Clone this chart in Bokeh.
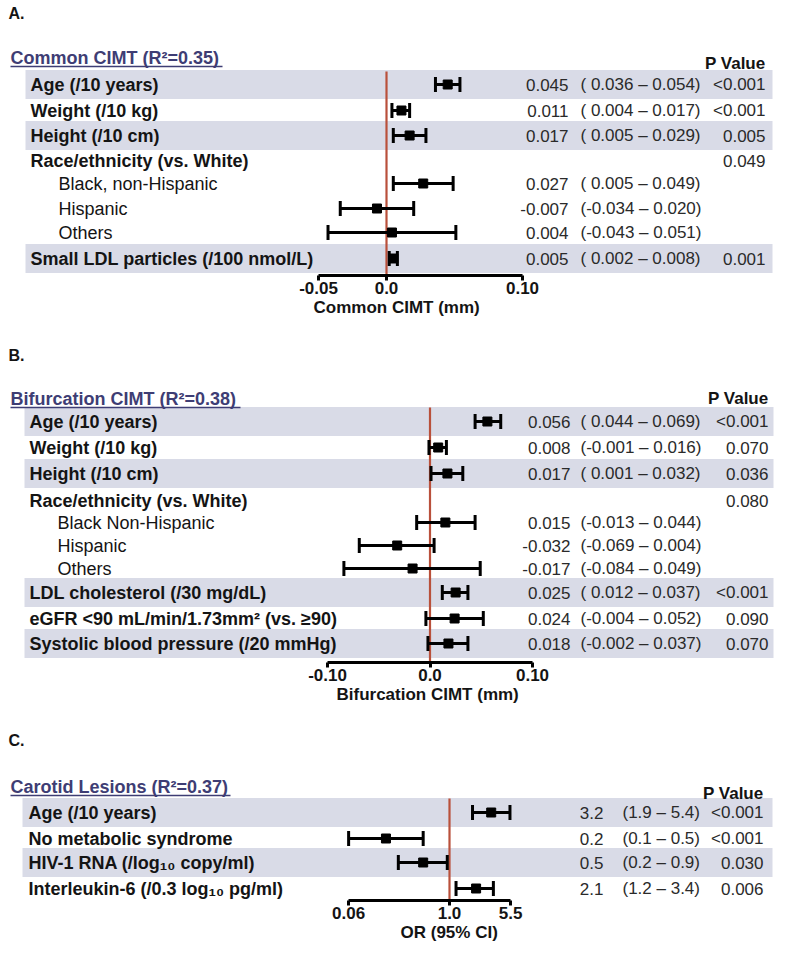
from bokeh.plotting import figure
from bokeh.models import Range1d, FixedTicker, CustomJSTickFormatter, Title
from bokeh.layouts import column
from bokeh.core.properties import value
from bokeh.embed import file_html
from bokeh.resources import INLINE

FONT = "Liberation Sans"
BAND = "#d9dbe7"
REF = "#b9503b"
TITLE_C = "#3e3d74"
INK = "#141414"
NUM = "#2a2a2a"

# ---------------- Panel A: Common CIMT ----------------
a_title = "Common CIMT (R\u00b2=0.35)"
a_labels = ["Age (/10 years)", "Weight (/10 kg)", "Height (/10 cm)",
            "Race/ethnicity (vs. White)", "Black, non-Hispanic", "Hispanic", "Others",
            "Small LDL particles (/100 nmol/L)"]
a_est = [0.045, 0.011, 0.017, None, 0.027, -0.007, 0.004, 0.005]
a_lo = [0.036, 0.004, 0.005, None, 0.005, -0.034, -0.043, 0.002]
a_hi = [0.054, 0.017, 0.029, None, 0.049, 0.020, 0.051, 0.008]
a_p = ["<0.001", "<0.001", "0.005", "0.049", "", "", "", "0.001"]
a_ticks = [-0.05, 0.0, 0.10]
a_xlabel = "Common CIMT (mm)"

# ---------------- Panel B: Bifurcation CIMT ----------------
b_title = "Bifurcation CIMT (R\u00b2=0.38)"
b_labels = ["Age (/10 years)", "Weight (/10 kg)", "Height (/10 cm)",
            "Race/ethnicity (vs. White)", "Black Non-Hispanic", "Hispanic", "Others",
            "LDL cholesterol (/30 mg/dL)", "eGFR <90 mL/min/1.73mm\u00b2 (vs. \u226590)",
            "Systolic blood pressure (/20 mmHg)"]
b_est = [0.056, 0.008, 0.017, None, 0.015, -0.032, -0.017, 0.025, 0.024, 0.018]
b_lo = [0.044, -0.001, 0.001, None, -0.013, -0.069, -0.084, 0.012, -0.004, -0.002]
b_hi = [0.069, 0.016, 0.032, None, 0.044, 0.004, 0.049, 0.037, 0.052, 0.037]
b_p = ["<0.001", "0.070", "0.036", "0.080", "", "", "", "<0.001", "0.090", "0.070"]
b_ticks = [-0.10, 0.0, 0.10]
b_xlabel = "Bifurcation CIMT (mm)"

# ---------------- Panel C: Carotid lesions (OR) ----------------
c_title = "Carotid Lesions (R\u00b2=0.37)"
c_labels = ["Age (/10 years)", "No metabolic syndrome",
            "HIV-1 RNA (/log\u2081\u2080 copy/ml)", "Interleukin-6 (/0.3 log\u2081\u2080 pg/ml)"]
c_est = [3.2, 0.17, 0.48, 2.1]
c_lo = [1.9, 0.06, 0.24, 1.2]
c_hi = [5.4, 0.48, 0.94, 3.4]
c_p = ["<0.001", "<0.001", "0.030", "0.006"]
c_ticks = [0.06, 1.0, 5.5]
c_xlabel = "OR (95% CI)"

# ---------------- layout (pixel positions, not data) ----------------
A_LAY = dict(letter="A.", log=False, x0=386, scale=1360, top=0, axis_y=275, bottom=325,
             letter_y=13, title_y=57, title_end=222, pv_y=63, red_top=71, xlab_left=313,
             est_r=568, ci_l=580, p_r=765, band_l=25, band_r=772, lab_x=30, sub_x=58,
             kinds=["main", "main", "main", "head", "sub", "sub", "sub", "main"],
             ys=[84, 110, 135, 160, 183, 208, 232, 258],
             bands=[1, 0, 1, 0, 0, 0, 0, 1])
B_LAY = dict(letter="B.", log=False, x0=429.5, scale=1025, top=325, axis_y=662, bottom=710,
             letter_y=355, title_y=398, title_end=240, pv_y=398, red_top=407, xlab_left=336,
             est_r=570, ci_l=580, p_r=768, band_l=24, band_r=773, lab_x=29, sub_x=57,
             kinds=["main", "main", "main", "head", "sub", "sub", "sub", "main", "main", "main"],
             ys=[421, 447, 473, 500, 522, 545, 568, 592, 618, 643],
             bands=[1, 0, 1, 0, 0, 0, 0, 1, 0, 1])
C_LAY = dict(letter="C.", log=True, x0=449, scale=82.56, top=710, axis_y=900, bottom=953,
             letter_y=740, title_y=786, title_end=230, pv_y=793, red_top=798, xlab_left=400,
             est_r=603, ci_l=622, p_r=763, band_l=22, band_r=772, lab_x=28, sub_x=56,
             kinds=["main", "main", "main", "main"],
             ys=[812, 838, 862, 888],
             bands=[1, 0, 1, 0])

PAGE_W = 800


def txt(p, x, y, t, size, bold=False, align="left", color=INK):
    p.text(x=x, y=y, text=t, text_font=value(FONT), text_font_size=size,
           text_font_style="bold" if bold else "normal", text_align=align,
           text_baseline="middle", text_color=color)


def make_panel(title, labels, est, lo, hi, pv, ticks, xlabel, L, est_fmt, ci_fmt):
    log = L["log"]
    if log:
        to_x = lambda px: 10 ** ((px - L["x0"]) / L["scale"])
    else:
        to_x = lambda px: (px - L["x0"]) / L["scale"]
    top, ay, bot = L["top"], L["axis_y"], L["bottom"]
    p = figure(width=PAGE_W, height=bot - top, output_backend="svg", toolbar_location=None,
               x_axis_type="log" if log else "linear",
               x_range=Range1d(to_x(0), to_x(PAGE_W)), y_range=Range1d(ay, top),
               y_axis_location=None, min_border_left=0, min_border_right=0,
               min_border_top=0, min_border_bottom=bot - ay)
    p.outline_line_color = None
    p.grid.visible = False
    p.background_fill_color = "white"
    p.border_fill_color = "white"

    ys, kinds, bands = L["ys"], L["kinds"], L["bands"]

    # shaded rows
    bi = [i for i, b in enumerate(bands) if b]
    p.quad(left=to_x(L["band_l"]), right=to_x(L["band_r"]),
           top=[ys[i] - 14.5 for i in bi], bottom=[ys[i] + 14.5 for i in bi],
           fill_color=BAND, line_color=None)

    # null-effect line
    zero = 1.0 if log else 0.0
    p.segment(x0=[zero], x1=[zero], y0=[L["red_top"]], y1=[ay + 8],
              line_color=REF, line_width=2.2)

    # estimates with CI
    idx = [i for i, e in enumerate(est) if e is not None]
    ey = [ys[i] for i in idx]
    los = [lo[i] for i in idx]
    his = [hi[i] for i in idx]
    ests = [est[i] for i in idx]
    p.segment(x0=los, x1=his, y0=ey, y1=ey, line_color="black", line_width=3)
    p.segment(x0=los, x1=los, y0=[y - 7.5 for y in ey], y1=[y + 7.5 for y in ey],
              line_color="black", line_width=3)
    p.segment(x0=his, x1=his, y0=[y - 7.5 for y in ey], y1=[y + 7.5 for y in ey],
              line_color="black", line_width=3)
    p.scatter(x=ests, y=ey, marker="square", size=9, color="black")

    # row labels
    for k, bold, xp in (("main", True, L["lab_x"]), ("head", True, L["lab_x"]),
                        ("sub", False, L["sub_x"])):
        ii = [i for i, kk in enumerate(kinds) if kk == k]
        if ii:
            txt(p, [to_x(xp)] * len(ii), [ys[i] for i in ii], [labels[i] for i in ii],
                "18px", bold=bold)

    # numeric columns
    txt(p, [to_x(L["est_r"])] * len(idx), ey, [est_fmt(e) for e in ests], "17px",
        align="right", color=NUM)
    txt(p, [to_x(L["ci_l"])] * len(idx), ey, [ci_fmt(a, b) for a, b in zip(los, his)],
        "17px", color=NUM)
    pi = [i for i, s in enumerate(pv) if s]
    txt(p, [to_x(L["p_r"])] * len(pi), [ys[i] for i in pi], [pv[i] for i in pi], "17px",
        align="right", color=NUM)

    # headers
    txt(p, [to_x(8)], [L["letter_y"]], [L["letter"]], "16px", bold=True)
    txt(p, [to_x(10)], [L["title_y"]], [title], "18px", bold=True, color=TITLE_C)
    p.segment(x0=[to_x(10)], x1=[to_x(L["title_end"])], y0=[L["title_y"] + 9],
              y1=[L["title_y"] + 9], line_color=TITLE_C, line_width=1.5)
    txt(p, [to_x(L["p_r"])], [L["pv_y"]], ["P Value"], "17px", bold=True, align="right")

    # axis
    ax = p.xaxis[0]
    ax.ticker = FixedTicker(ticks=ticks)
    ax.bounds = (ticks[0], ticks[-1])
    if log:
        ax.formatter = CustomJSTickFormatter(code="return tick == 1 ? '1.0' : String(tick);")
    else:
        ax.formatter = CustomJSTickFormatter(code="return tick == 0 ? '0.0' : tick.toFixed(2);")
    ax.major_label_text_font = FONT
    ax.major_label_text_font_style = "bold"
    ax.major_label_text_font_size = "17px"
    ax.major_label_text_color = INK
    ax.major_label_standoff = 1
    ax.axis_line_width = 3
    ax.axis_line_color = "black"
    ax.major_tick_line_width = 3
    ax.major_tick_line_color = "black"
    ax.major_tick_out = 5
    ax.major_tick_in = 0
    ax.minor_tick_line_color = None

    # x-axis title (placed under the axis, offset like the original)
    p.add_layout(Title(text=xlabel, align="left", offset=L["xlab_left"], standoff=0,
                       vertical_align="middle", text_font=FONT, text_font_style="bold",
                       text_font_size="17px", text_color=INK), "below")
    return p


lin_est = lambda e: f"{e:.3f}"
lin_ci = lambda a, b: f"({a:6.3f} \u2013 {b:.3f})"
or_est = lambda e: f"{e:.1f}"
or_ci = lambda a, b: f"({a:.1f} \u2013 {b:.1f})"

pa = make_panel(a_title, a_labels, a_est, a_lo, a_hi, a_p, a_ticks, a_xlabel, A_LAY, lin_est, lin_ci)
pb = make_panel(b_title, b_labels, b_est, b_lo, b_hi, b_p, b_ticks, b_xlabel, B_LAY, lin_est, lin_ci)
pc = make_panel(c_title, c_labels, c_est, c_lo, c_hi, c_p, c_ticks, c_xlabel, C_LAY, or_est, or_ci)

layout = column(pa, pb, pc, spacing=0)
open("out.html", "w").write(file_html(layout, INLINE))
